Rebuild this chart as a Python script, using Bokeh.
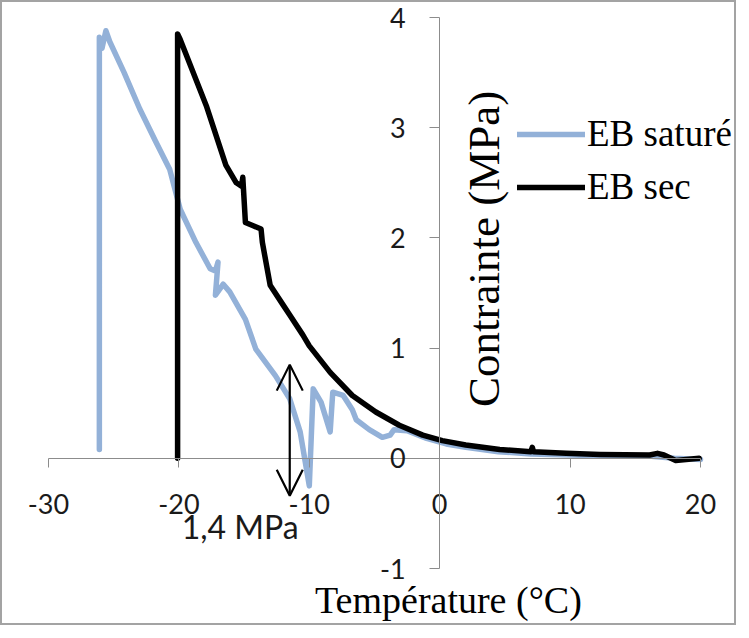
from bokeh.plotting import figure
from bokeh.models import Range1d, Legend, LegendItem, Label, Arrow, OpenHead, FixedTicker
from bokeh.embed import file_html
from bokeh.resources import INLINE

# ---- data ----
sat_temp = [-26.1, -26.1, -25.9, -25.6, -25.3, -24.2, -23.0, -21.8, -20.7, -19.9, -18.7, -17.6,
            -17.2, -17.0, -17.2, -16.6, -16.1, -14.9, -14.1, -12.6, -11.5, -10.7, -10.3, -10.0,
            -9.7, -9.1, -8.4, -8.2, -7.4, -6.7, -6.4, -5.4, -4.4, -3.8, -3.5, -2.5, -1.0, 0.5,
            2.0, 4.5, 7.0, 10.0, 13.0, 16.0, 18.0, 20.0]
sat_stress = [0.08, 3.82, 3.72, 3.88, 3.78, 3.50, 3.17, 2.88, 2.62, 2.26, 1.96, 1.72,
              1.70, 1.78, 1.48, 1.58, 1.51, 1.26, 0.99, 0.75, 0.54, 0.24, -0.04, -0.25,
              0.63, 0.51, 0.24, 0.60, 0.57, 0.44, 0.35, 0.26, 0.19, 0.21, 0.26, 0.25, 0.18, 0.13,
              0.10, 0.06, 0.04, 0.03, 0.02, 0.02, 0.0, -0.01]

sec_temp = [-20.1, -20.1, -19.9, -17.9, -16.4, -15.6, -15.2, -15.1, -14.9, -14.3, -13.7, -13.6,
            -13.0, -12.0, -11.5, -10.5, -10.0, -8.4, -6.7, -4.9, -3.1, -1.3, 0.2, 2.0, 4.6,
            7.0, 7.1, 7.2, 9.7, 12.3, 16.1, 16.7, 17.2, 18.1, 19.9]
sec_stress = [0.0, 3.85, 3.80, 3.20, 2.66, 2.50, 2.47, 2.55, 2.14, 2.11, 2.08, 1.96,
              1.57, 1.39, 1.30, 1.12, 1.02, 0.78, 0.57, 0.42, 0.30, 0.21, 0.16, 0.12, 0.08,
              0.06, 0.10, 0.06, 0.045, 0.035, 0.03, 0.045, 0.03, -0.02, 0.0]

series_labels = ["EB saturé", "EB sec"]
x_ticks = [-30, -20, -10, 0, 10, 20]
y_ticks = [-1, 0, 1, 2, 3, 4]
arrow_temp = -11.5
arrow_stress = [-0.34, 0.85]
annotation_text = "1,4 MPa"
x_title = "Température (°C)"
y_title = "Contrainte (MPa)"

BLUE = "#93B1D8"
AXIS = "#8c8c8c"

W, H = 736, 625
# pixel layout of the axes box inside the canvas
L, R, T, B = 46, 698, 15, 566
XMIN, XMAX, YMIN, YMAX = x_ticks[0], x_ticks[-1], y_ticks[0], y_ticks[-1]
sx = (R - L) / (XMAX - XMIN)
sy = (B - T) / (YMAX - YMIN)
x_range = Range1d(XMIN - L / sx, XMAX + (W - R) / sx)
y_range = Range1d(YMIN - (H - B) / sy, YMAX + T / sy)

p = figure(width=W, height=H, output_backend="svg", toolbar_location=None,
           x_range=x_range, y_range=y_range,
           min_border_left=0, min_border_right=0, min_border_top=0, min_border_bottom=0)
p.styles = {"border": "2px solid #a3a3a3"}
p.grid.visible = False
p.outline_line_color = None

for ax, ticks, standoff, tick_out in ((p.xaxis, x_ticks, 27, 9), (p.yaxis, y_ticks, 24, 10)):
    ax.fixed_location = 0
    ax.bounds = (ticks[0], ticks[-1])
    ax.ticker = FixedTicker(ticks=ticks)
    ax.major_label_overrides = {t: str(t) for t in ticks}
    ax.axis_line_color = AXIS
    ax.axis_line_width = 1
    ax.major_tick_line_color = AXIS
    ax.major_tick_in = 0
    ax.major_tick_out = tick_out
    ax.minor_tick_line_color = None
    ax.major_label_standoff = standoff
    ax.major_label_text_font = "Lato"
    ax.major_label_text_font_size = "27px"
    ax.major_label_text_color = "#1a1a1a"

r_sec = p.line(sec_temp, sec_stress, line_color="black", line_width=5.5,
               line_join="round", line_cap="round")
r_sat = p.line(sat_temp, sat_stress, line_color=BLUE, line_width=5.5,
               line_join="round", line_cap="round")
# draw black on top
p.renderers = [r_sat, r_sec]

legend = Legend(items=[LegendItem(label=series_labels[0], renderers=[r_sat]),
                       LegendItem(label=series_labels[1], renderers=[r_sec])],
                location=(515, 419), orientation="vertical",
                glyph_width=68, glyph_height=40, label_height=40, spacing=10,
                label_standoff=2, padding=0, margin=0,
                border_line_color=None, background_fill_alpha=0,
                label_text_font="Liberation Serif", label_text_font_size="37px",
                label_text_color="black")
p.add_layout(legend)

p.add_layout(Arrow(start=OpenHead(size=26, line_width=2.2, line_color="black"),
                   end=OpenHead(size=26, line_width=2.2, line_color="black"),
                   x_start=arrow_temp, y_start=arrow_stress[0],
                   x_end=arrow_temp, y_end=arrow_stress[1],
                   line_width=2.2, line_color="black"))

p.add_layout(Label(x=-15.3, y=-0.62, text=annotation_text, text_align="center",
                   text_baseline="middle", text_font="Lato", text_font_size="32px",
                   text_color="#1a1a1a"))
p.add_layout(Label(x=0.67, y=-1.29, text=x_title, text_align="center",
                   text_baseline="middle", text_font="Liberation Serif",
                   text_font_size="38px", text_color="black"))
p.add_layout(Label(x=3.4, y=1.9, text=y_title, angle=1.5708, text_align="center",
                   text_baseline="middle", text_font="Liberation Serif",
                   text_font_size="45px", text_color="black"))

open("out.html", "w").write(file_html(p, INLINE))
